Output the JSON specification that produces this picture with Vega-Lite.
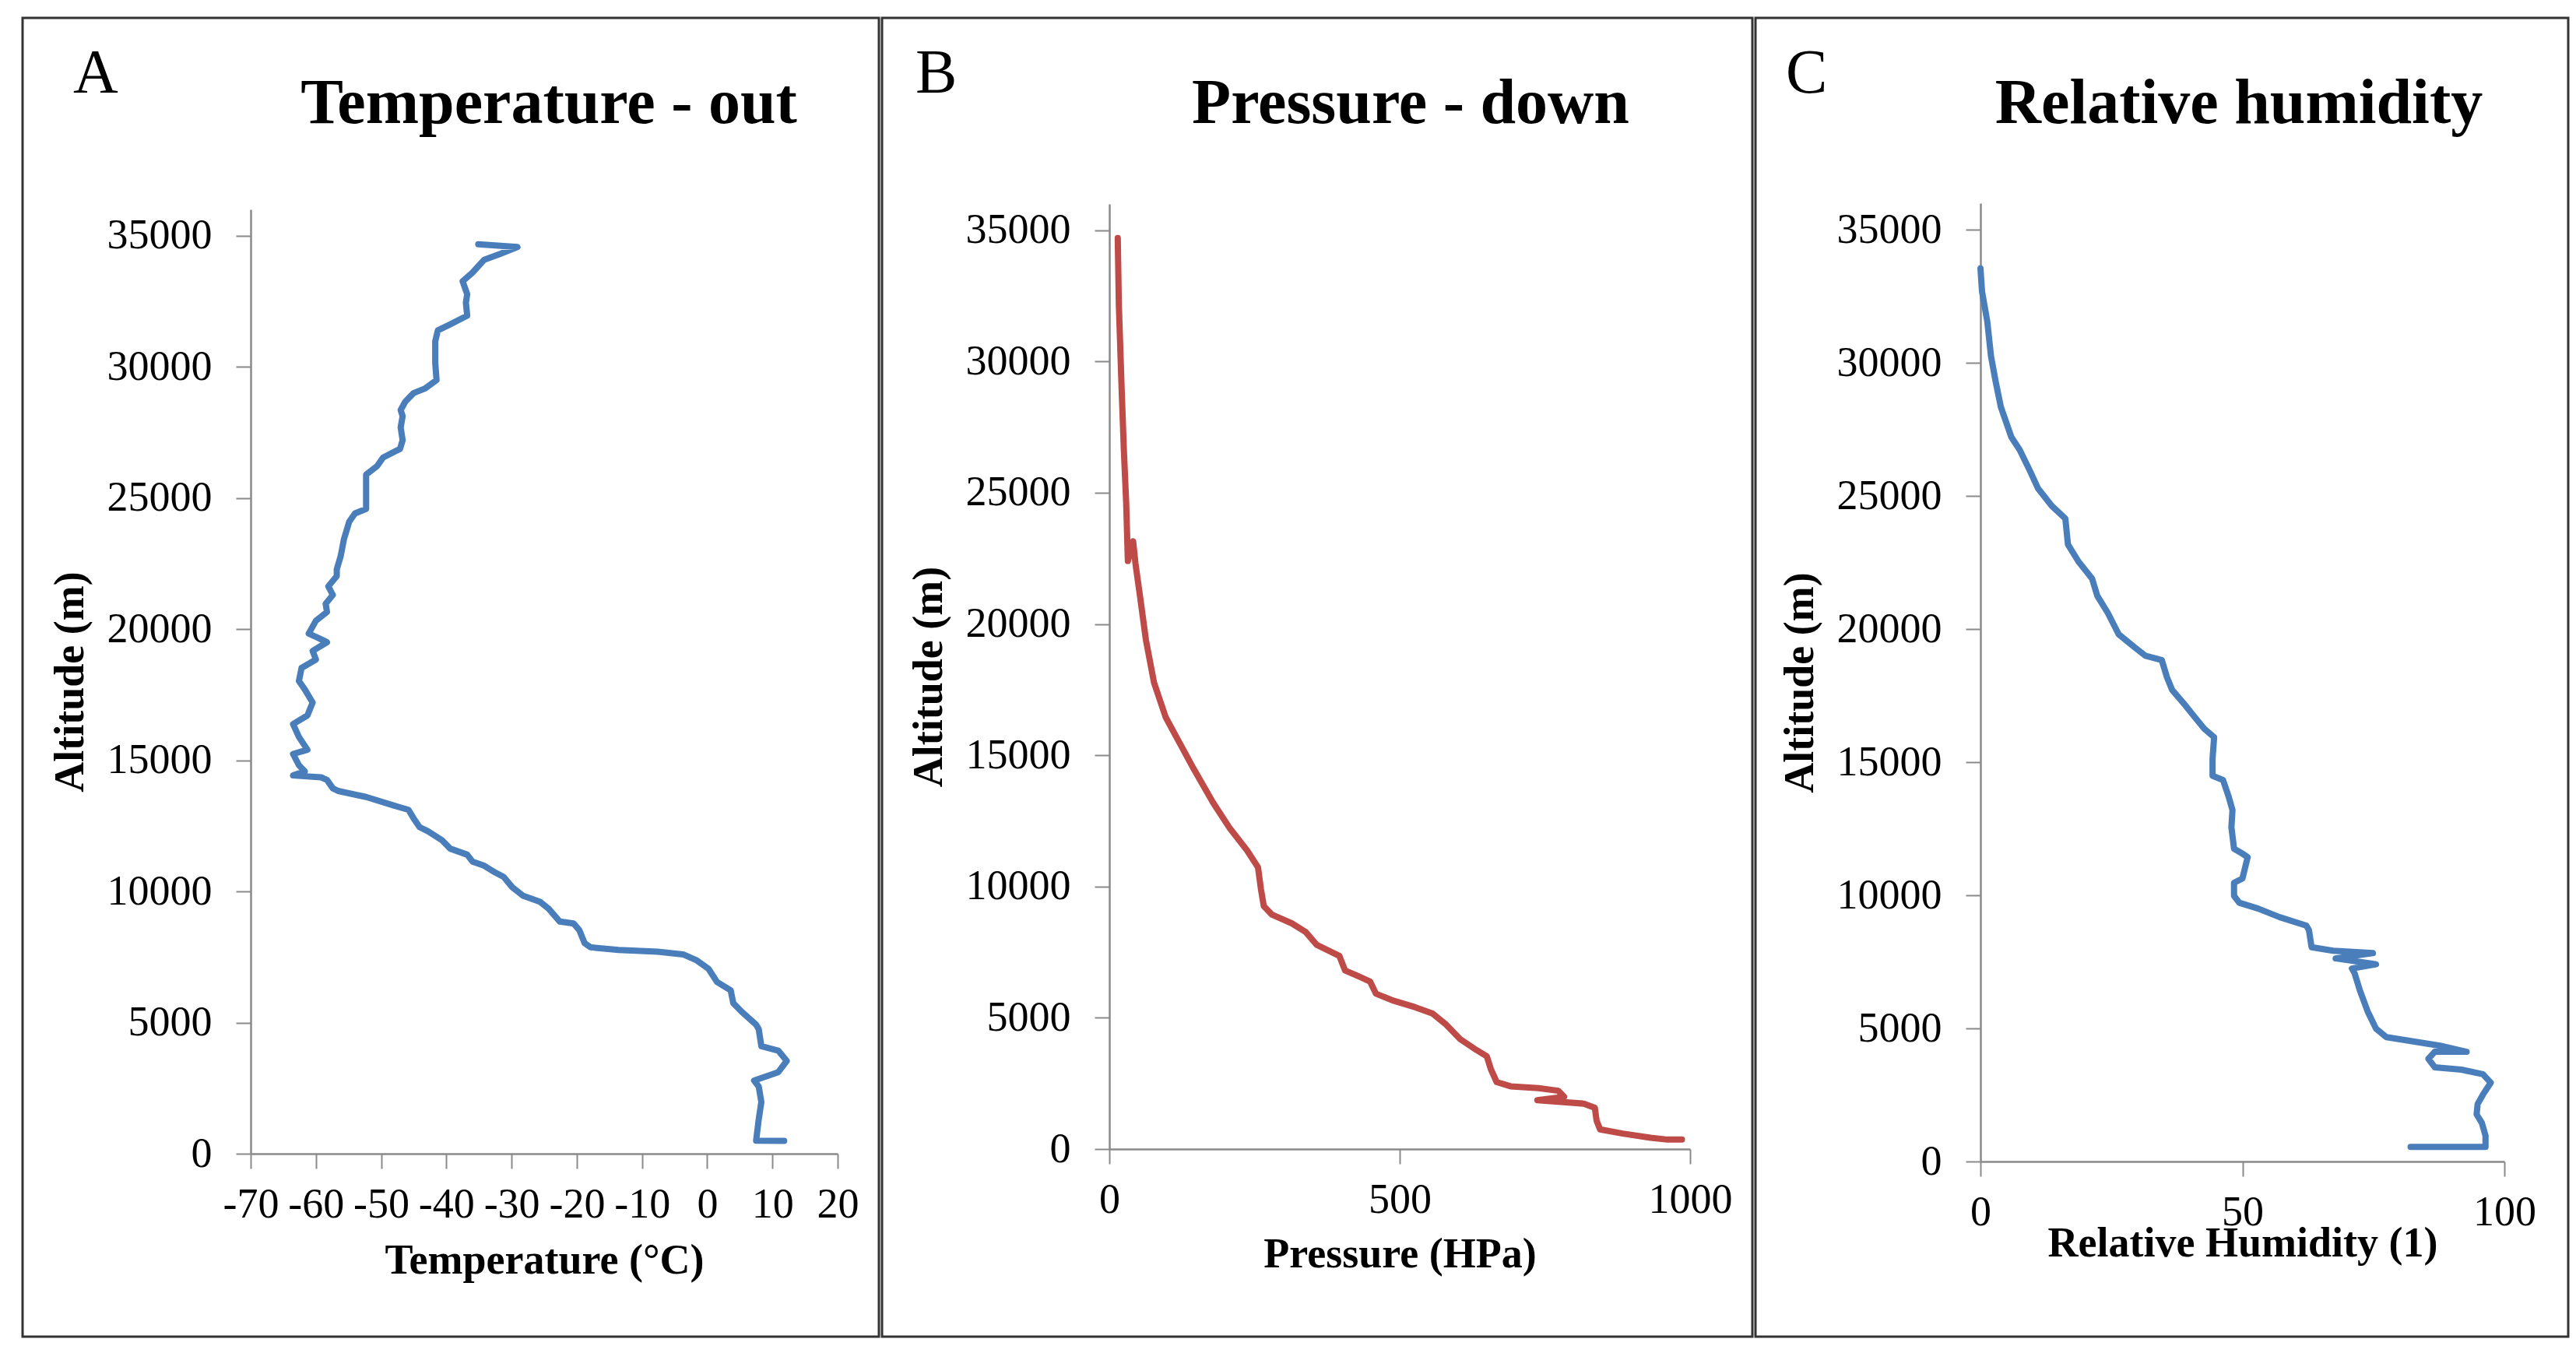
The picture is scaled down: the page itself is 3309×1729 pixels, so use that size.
{
  "$schema": "https://vega.github.io/schema/vega-lite/v6.json",
  "background": "white",
  "padding": {"left": 27, "top": 21, "right": 0, "bottom": 0},
  "spacing": 0,
  "config": {
    "view": {"stroke": "#333333", "strokeWidth": 3},
    "axis": {
      "grid": false,
      "labelFont": "Liberation Serif",
      "labelFontSize": 54,
      "labelColor": "#000000",
      "titleFont": "Liberation Serif",
      "titleFontSize": 54,
      "titleFontWeight": "bold",
      "titleColor": "#000000",
      "domainColor": "#8a8a8a",
      "domainWidth": 2.5,
      "tickColor": "#8a8a8a",
      "tickWidth": 2,
      "tickSize": 19,
      "labelFlush": false,
      "labelOverlap": false,
      "labelBound": false
    },
    "concat": {"spacing": 0},
    "title": {"font": "Liberation Serif", "color": "#000000", "baseline": "alphabetic", "frame": "group"}
  },
  "datasets": {
    "temp": [
      {"i":1,"t":11.8,"alt":490},{"i":2,"t":7.5,"alt":500},{"i":3,"t":7.9,"alt":1310},{"i":4,"t":8.3,"alt":1970},
      {"i":5,"t":7.9,"alt":2560},{"i":6,"t":7.2,"alt":2790},{"i":7,"t":10.9,"alt":3110},{"i":8,"t":12.2,"alt":3540},
      {"i":9,"t":10.9,"alt":3930},{"i":10,"t":8.3,"alt":4100},{"i":11,"t":7.9,"alt":4750},{"i":12,"t":7.5,"alt":4920},
      {"i":13,"t":5.3,"alt":5410},{"i":14,"t":4.0,"alt":5740},{"i":15,"t":3.6,"alt":6230},{"i":16,"t":1.5,"alt":6550},
      {"i":17,"t":0.2,"alt":7050},{"i":18,"t":-1.6,"alt":7370},{"i":19,"t":-3.7,"alt":7600},{"i":20,"t":-7.6,"alt":7700},
      {"i":21,"t":-13.6,"alt":7770},{"i":22,"t":-17.9,"alt":7870},{"i":23,"t":-18.8,"alt":8030},{"i":24,"t":-19.6,"alt":8520},
      {"i":25,"t":-20.5,"alt":8780},{"i":26,"t":-22.6,"alt":8850},{"i":27,"t":-23.5,"alt":9110},{"i":28,"t":-24.3,"alt":9340},
      {"i":29,"t":-25.6,"alt":9600},{"i":30,"t":-28.2,"alt":9830},{"i":31,"t":-29.9,"alt":10160},{"i":32,"t":-31.2,"alt":10550},
      {"i":33,"t":-32.5,"alt":10720},{"i":34,"t":-34.2,"alt":10980},{"i":35,"t":-36.0,"alt":11140},{"i":36,"t":-36.8,"alt":11400},
      {"i":37,"t":-39.4,"alt":11630},{"i":38,"t":-40.7,"alt":11960},{"i":39,"t":-42.8,"alt":12290},{"i":40,"t":-44.1,"alt":12450},
      {"i":41,"t":-45.0,"alt":12780},{"i":42,"t":-45.8,"alt":13110},{"i":43,"t":-48.0,"alt":13270},{"i":44,"t":-52.3,"alt":13600},
      {"i":45,"t":-56.6,"alt":13830},{"i":46,"t":-57.4,"alt":13930},{"i":47,"t":-58.3,"alt":14250},{"i":48,"t":-59.2,"alt":14350},
      {"i":49,"t":-63.5,"alt":14420},{"i":50,"t":-61.7,"alt":14580},{"i":51,"t":-62.6,"alt":14810},{"i":52,"t":-63.5,"alt":15240},
      {"i":53,"t":-61.3,"alt":15400},{"i":54,"t":-62.6,"alt":15890},{"i":55,"t":-63.5,"alt":16380},{"i":56,"t":-61.3,"alt":16710},
      {"i":57,"t":-60.5,"alt":17200},{"i":58,"t":-61.7,"alt":17700},{"i":59,"t":-62.6,"alt":18020},{"i":60,"t":-62.2,"alt":18520},
      {"i":61,"t":-60.0,"alt":18840},{"i":62,"t":-60.5,"alt":19170},{"i":63,"t":-58.3,"alt":19500},{"i":64,"t":-59.6,"alt":19660},
      {"i":65,"t":-61.1,"alt":19830},{"i":66,"t":-60.0,"alt":20320},{"i":67,"t":-58.3,"alt":20650},{"i":68,"t":-58.5,"alt":20970},
      {"i":69,"t":-57.4,"alt":21300},{"i":70,"t":-58.1,"alt":21630},{"i":71,"t":-56.8,"alt":22020},{"i":72,"t":-56.8,"alt":22280},
      {"i":73,"t":-56.2,"alt":22780},{"i":74,"t":-55.7,"alt":23430},{"i":75,"t":-54.9,"alt":24090},{"i":76,"t":-54.0,"alt":24410},
      {"i":77,"t":-52.3,"alt":24580},{"i":78,"t":-52.3,"alt":25560},{"i":79,"t":-52.3,"alt":25890},{"i":80,"t":-50.6,"alt":26220},
      {"i":81,"t":-49.7,"alt":26540},{"i":82,"t":-47.1,"alt":26870},{"i":83,"t":-46.7,"alt":27200},{"i":84,"t":-47.0,"alt":27690},
      {"i":85,"t":-46.7,"alt":28120},{"i":86,"t":-47.0,"alt":28350},{"i":87,"t":-46.3,"alt":28670},{"i":88,"t":-45.0,"alt":29000},
      {"i":89,"t":-43.3,"alt":29170},{"i":90,"t":-41.5,"alt":29490},{"i":91,"t":-41.7,"alt":30150},{"i":92,"t":-41.7,"alt":30970},
      {"i":93,"t":-41.3,"alt":31390},{"i":94,"t":-39.4,"alt":31620},{"i":95,"t":-36.8,"alt":31950},{"i":96,"t":-37.0,"alt":32440},
      {"i":97,"t":-36.8,"alt":32770},{"i":98,"t":-37.5,"alt":33260},{"i":99,"t":-36.0,"alt":33590},{"i":100,"t":-34.2,"alt":34080},
      {"i":101,"t":-31.7,"alt":34310},{"i":102,"t":-29.1,"alt":34570},{"i":103,"t":-35.1,"alt":34670}
    ],
    "pres": [
      {"i":1,"p":14.5,"alt":34700},{"i":2,"p":16.4,"alt":32150},{"i":3,"p":21.3,"alt":28870},{"i":4,"p":25.1,"alt":26580},
      {"i":5,"p":29.0,"alt":24620},{"i":6,"p":31.9,"alt":22400},{"i":7,"p":41,"alt":23150},{"i":8,"p":45,"alt":22300},
      {"i":9,"p":53,"alt":21030},{"i":10,"p":63,"alt":19390},{"i":11,"p":77,"alt":17760},{"i":12,"p":97,"alt":16450},
      {"i":13,"p":121,"alt":15470},{"i":14,"p":145,"alt":14490},{"i":15,"p":179,"alt":13180},{"i":16,"p":208,"alt":12200},
      {"i":17,"p":237,"alt":11380},{"i":18,"p":256,"alt":10730},{"i":19,"p":261,"alt":9910},{"i":20,"p":266,"alt":9250},
      {"i":21,"p":280,"alt":8930},{"i":22,"p":314,"alt":8600},{"i":23,"p":338,"alt":8270},{"i":24,"p":357,"alt":7780},
      {"i":25,"p":372,"alt":7620},{"i":26,"p":396,"alt":7360},{"i":27,"p":406,"alt":6800},{"i":28,"p":430,"alt":6570},
      {"i":29,"p":449,"alt":6380},{"i":30,"p":459,"alt":5920},{"i":31,"p":488,"alt":5660},{"i":32,"p":527,"alt":5400},
      {"i":33,"p":556,"alt":5170},{"i":34,"p":580,"alt":4740},{"i":35,"p":604,"alt":4190},{"i":36,"p":633,"alt":3760},
      {"i":37,"p":650,"alt":3530},{"i":38,"p":657,"alt":3040},{"i":39,"p":667,"alt":2550},{"i":40,"p":691,"alt":2390},
      {"i":41,"p":739,"alt":2320},{"i":42,"p":773,"alt":2220},{"i":43,"p":783,"alt":1990},{"i":44,"p":737,"alt":1860},
      {"i":45,"p":773,"alt":1800},{"i":46,"p":817,"alt":1730},{"i":47,"p":836,"alt":1570},{"i":48,"p":839,"alt":1080},
      {"i":49,"p":845,"alt":750},{"i":50,"p":884,"alt":590},{"i":51,"p":932,"alt":430},{"i":52,"p":961,"alt":360},
      {"i":53,"p":986,"alt":360}
    ],
    "rh": [
      {"i":1,"rh":82.1,"alt":550},{"i":2,"rh":96.4,"alt":550},{"i":3,"rh":96.4,"alt":970},{"i":4,"rh":95.7,"alt":1450},
      {"i":5,"rh":94.7,"alt":1770},{"i":6,"rh":94.9,"alt":2160},{"i":7,"rh":95.9,"alt":2510},{"i":8,"rh":97.4,"alt":2960},
      {"i":9,"rh":95.9,"alt":3280},{"i":10,"rh":91.8,"alt":3450},{"i":11,"rh":86.7,"alt":3540},{"i":12,"rh":85.5,"alt":3860},
      {"i":13,"rh":86.7,"alt":4120},{"i":14,"rh":92.8,"alt":4120},{"i":15,"rh":87.7,"alt":4350},{"i":16,"rh":82.6,"alt":4510},
      {"i":17,"rh":77.5,"alt":4670},{"i":18,"rh":75.5,"alt":4990},{"i":19,"rh":73.9,"alt":5640},{"i":20,"rh":72.4,"alt":6440},
      {"i":21,"rh":71.4,"alt":7080},{"i":22,"rh":70.9,"alt":7250},{"i":23,"rh":75.5,"alt":7410},{"i":24,"rh":67.8,"alt":7630},
      {"i":25,"rh":74.9,"alt":7830},{"i":26,"rh":67.3,"alt":7920},{"i":27,"rh":63.2,"alt":8050},{"i":28,"rh":62.7,"alt":8690},
      {"i":29,"rh":62.2,"alt":8860},{"i":30,"rh":57.1,"alt":9180},{"i":31,"rh":53.0,"alt":9500},{"i":32,"rh":49.4,"alt":9720},
      {"i":33,"rh":48.4,"alt":9980},{"i":34,"rh":48.4,"alt":10470},{"i":35,"rh":50.0,"alt":10630},{"i":36,"rh":51.0,"alt":11430},
      {"i":37,"rh":49.8,"alt":11590},{"i":38,"rh":48.4,"alt":11750},{"i":39,"rh":47.9,"alt":12560},{"i":40,"rh":48.1,"alt":13200},
      {"i":41,"rh":47.4,"alt":13690},{"i":42,"rh":46.3,"alt":14330},{"i":43,"rh":44.3,"alt":14490},{"i":44,"rh":44.3,"alt":15130},
      {"i":45,"rh":44.6,"alt":15940},{"i":46,"rh":42.7,"alt":16260},{"i":47,"rh":40.7,"alt":16740},{"i":48,"rh":38.7,"alt":17230},
      {"i":49,"rh":36.6,"alt":17710},{"i":50,"rh":35.6,"alt":18190},{"i":51,"rh":34.6,"alt":18840},{"i":52,"rh":31.5,"alt":19000},
      {"i":53,"rh":29.4,"alt":19320},{"i":54,"rh":26.4,"alt":19800},{"i":55,"rh":24.3,"alt":20610},{"i":56,"rh":22.3,"alt":21250},
      {"i":57,"rh":21.3,"alt":21900},{"i":58,"rh":18.7,"alt":22540},{"i":59,"rh":16.7,"alt":23180},{"i":60,"rh":16.2,"alt":24150},
      {"i":61,"rh":13.6,"alt":24630},{"i":62,"rh":11.0,"alt":25280},{"i":63,"rh":9.5,"alt":25920},{"i":64,"rh":7.5,"alt":26730},
      {"i":65,"rh":5.9,"alt":27210},{"i":66,"rh":3.9,"alt":28340},{"i":67,"rh":2.9,"alt":29300},{"i":68,"rh":2.0,"alt":30270},
      {"i":69,"rh":1.3,"alt":31560},{"i":70,"rh":0.3,"alt":32680},{"i":71,"rh":0.0,"alt":33550}
    ]
  },
  "hconcat": [
    {
      "title": {"text": "A", "anchor": "start", "dx": 65, "offset": -114, "fontSize": 80, "fontWeight": "normal"},
      "vconcat": [
        {
          "data": {"name": "temp"},
          "width": 1100,
          "height": 1694,
          "title": {"text": "Temperature - out", "anchor": "middle", "dx": 126, "offset": -152, "fontSize": 82, "fontWeight": "bold"},
          "mark": {"type": "line", "color": "#4A7EBB", "strokeWidth": 8, "strokeJoin": "round", "strokeCap": "round"},
          "encoding": {
            "x": {"field": "t", "type": "quantitative",
                  "scale": {"domain": [-70, 20], "range": [293, 1047], "nice": false, "zero": false},
                  "axis": {"title": "Temperature (°C)", "values": [-70,-60,-50,-40,-30,-20,-10,0,10,20], "labelExpr": "(datum.value < 0 ? '-' : '') + abs(datum.value)", "offset": -235, "labelPadding": 19, "titlePadding": 18}},
            "y": {"field": "alt", "type": "quantitative",
                  "scale": {"domain": [0, 36000], "range": [1459, 246], "nice": false},
                  "axis": {"title": "Altitude (m)", "values": [0,5000,10000,15000,20000,25000,30000,35000], "format": "d", "offset": -293, "labelPadding": 31, "titlePadding": 20}},
            "order": {"field": "i", "type": "quantitative"}
          }
        }
      ]
    },
    {
      "title": {"text": "B", "anchor": "start", "dx": 43, "offset": -114, "fontSize": 80, "fontWeight": "normal"},
      "vconcat": [
        {
          "data": {"name": "pres"},
          "width": 1118,
          "height": 1694,
          "title": {"text": "Pressure - down", "anchor": "middle", "dx": 120, "offset": -152, "fontSize": 82, "fontWeight": "bold"},
          "mark": {"type": "line", "color": "#BE4B48", "strokeWidth": 8, "strokeJoin": "round", "strokeCap": "round"},
          "encoding": {
            "x": {"field": "p", "type": "quantitative",
                  "scale": {"domain": [0, 1000], "range": [292, 1038], "nice": false, "zero": false},
                  "axis": {"title": "Pressure (HPa)", "values": [0, 500, 1000], "format": "d", "offset": -241, "labelPadding": 19, "titlePadding": 16}},
            "y": {"field": "alt", "type": "quantitative",
                  "scale": {"domain": [0, 36000], "range": [1453, 239], "nice": false},
                  "axis": {"title": "Altitude (m)", "values": [0,5000,10000,15000,20000,25000,30000,35000], "format": "d", "offset": -292, "labelPadding": 31, "titlePadding": 20}},
            "order": {"field": "i", "type": "quantitative"}
          }
        }
      ]
    },
    {
      "title": {"text": "C", "anchor": "start", "dx": 39, "offset": -114, "fontSize": 80, "fontWeight": "normal"},
      "vconcat": [
        {
          "data": {"name": "rh"},
          "width": 1044,
          "height": 1694,
          "title": {"text": "Relative humidity", "anchor": "middle", "dx": 99, "offset": -152, "fontSize": 82, "fontWeight": "bold"},
          "mark": {"type": "line", "color": "#4A7EBB", "strokeWidth": 8, "strokeJoin": "round", "strokeCap": "round"},
          "encoding": {
            "x": {"field": "rh", "type": "quantitative",
                  "scale": {"domain": [0, 100], "range": [289, 962], "nice": false, "zero": false},
                  "axis": {"title": "Relative Humidity (1)", "values": [0, 50, 100], "format": "d", "offset": -225, "labelPadding": 19, "titlePadding": -14}},
            "y": {"field": "alt", "type": "quantitative",
                  "scale": {"domain": [0, 36000], "range": [1469, 238], "nice": false},
                  "axis": {"title": "Altitude (m)", "values": [0,5000,10000,15000,20000,25000,30000,35000], "format": "d", "offset": -289, "labelPadding": 31, "titlePadding": 20}},
            "order": {"field": "i", "type": "quantitative"}
          }
        }
      ]
    }
  ]
}
